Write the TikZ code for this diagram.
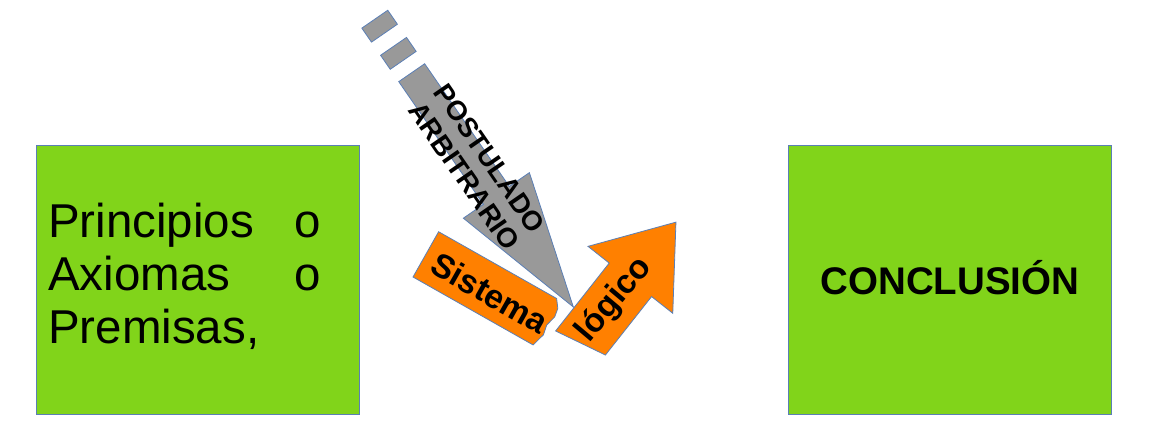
\documentclass[tikz,border=0pt]{standalone}
\usepackage{fontspec}
\setmainfont{Liberation Sans}
\definecolor{lime}{HTML}{81D41A}
\definecolor{grayarrow}{HTML}{999999}
\definecolor{orangearrow}{HTML}{FF8000}
\definecolor{edgeblue}{HTML}{5B7FB5}

\begin{document}
\begin{tikzpicture}[x=1pt, y=1pt,
  greenbox/.style={draw=edgeblue, line width=1pt, fill=lime, minimum width=323pt, minimum height=269pt, inner sep=0pt},
  shapeline/.style={draw=edgeblue, line width=0.8pt},
  arrowtext/.style={font=\bfseries\fontsize{33.5}{38}\selectfont, inner sep=0pt}]
\useasboundingbox (0,0) rectangle (1154,444);

% Boxes
\node [greenbox] (premisas) at (197.5,163.5) {};
\node [greenbox, text height=27.5pt, text depth=0pt, font=\bfseries\fontsize{38.5}{44}\selectfont] (conclusion) at (950,163.5) {CONCLUSIÓN};

% Premises text
\node [anchor=base west, inner sep=0pt, text width=273pt, align=left, font=\fontsize{47.5}{53}\selectfont] (principios) at (48,206.3) {Principios\hfill o\\Axiomas\hfill o\\Premisas,};

% Postulado arrow
\begin{scope}[shift={(411.7,371.3)}, rotate=-55.4]
\draw [shapeline, fill=grayarrow] (0,15.75) -- (149.1,15.75) -- (149.1,40.1) -- (284.7,0) -- (149.1,-40.1) -- (149.1,-15.75) -- (0,-15.75) -- cycle;
\draw [shapeline, fill=grayarrow] (-32,15.75) rectangle (-15,-15.75);
\draw [shapeline, fill=grayarrow] (-65,15.75) rectangle (-48,-15.75);
\node [arrowtext, rotate=-55.4, align=center, font=\bfseries\fontsize{27.5}{31}\selectfont] (postulado) at (115,0) {POSTULADO\\ARBITRARIO};
\end{scope}

% Sistema
\begin{scope}[shift={(413,167)}, rotate=-29.5]
\draw [shapeline, fill=orangearrow] (0,0) -- (0,52) -- (135.6,52) -- (141.5,44) -- (143,35) -- (140,24) -- (142,14) -- (138,0) -- cycle;
\node [arrowtext, rotate=-29.5] (sistema) at (75,24) {Sistema};
\end{scope}

% Logico arrow
\begin{scope}[shift={(580.5,101)}, rotate=51.7]
\draw [shapeline, fill=orangearrow] (-6,27) -- (80.5,27) -- (80.5,54) -- (154,0) -- (80.5,-54) -- (80.5,-27) -- (6,-27) -- cycle;
\node [arrowtext, rotate=50] (logico) at (55,0) {lógico};
\end{scope}

\end{tikzpicture}
\end{document}
